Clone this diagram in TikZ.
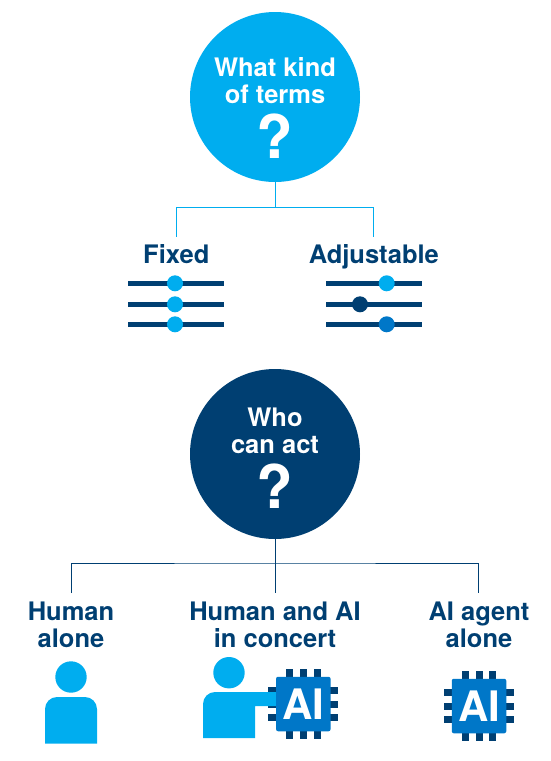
\documentclass[tikz,border=0pt]{standalone}
\usepackage{fontspec}
\setmainfont{TeX Gyre Heros}
\definecolor{cyanblue}{HTML}{00ADEF}
\definecolor{navyblue}{HTML}{003F72}
\definecolor{midblue}{HTML}{0077C8}
\tikzset{
  x=1pt,y=-1pt,
  bigcircle/.style={circle,minimum size=170pt,inner sep=0pt},
  label/.style={font=\fontsize{25.5}{27}\selectfont\bfseries,text=navyblue,anchor=base,inner sep=0pt},
  inlabel/.style={font=\fontsize{25.5}{27}\selectfont\bfseries,text=white,anchor=base,inner sep=0pt},
  qmark/.style={font=\fontsize{60}{60}\selectfont\bfseries,text=white,anchor=base,inner sep=0pt},
  cline/.style={draw=cyanblue,line width=1pt},
  nline/.style={draw=navyblue,line width=1pt},
  track/.style={draw=navyblue,line width=5pt},
  knob/.style={circle,minimum size=16pt,inner sep=0pt,fill=#1},
  pin/.style={fill=navyblue},
  persona/.style={fill=cyanblue},
  chip/.style={rectangle,rounded corners=2pt,fill=midblue,minimum size=54.5pt,inner sep=0pt,
     font=\fontsize{42}{42}\selectfont\bfseries,text=white},
}
\newcommand{\chippins}[2]{% centre x, centre y
  \foreach \d in {-13.7,0,13.7}{
    \fill[pin] (#1+\d-3.5,#2-35) rectangle (#1+\d+3.5,#2-26);
    \fill[pin] (#1+\d-3.5,#2+26) rectangle (#1+\d+3.5,#2+35);
    \fill[pin] (#1-35,#2+\d-3.5) rectangle (#1-26,#2+\d+3.5);
    \fill[pin] (#1+26,#2+\d-3.5) rectangle (#1+35,#2+\d+3.5);
  }}
\begin{document}
\begin{tikzpicture}
\useasboundingbox (0,0) rectangle (551,761);
% top question
\node[bigcircle,fill=cyanblue] (q1) at (275,97) {};
\node[inlabel] (q1a) at (275,76.2) {What kind};
\node[inlabel] (q1b) at (275,103.2) {of terms};
\node[qmark] (q1m) at (275,158) {?};
\coordinate (j1) at (275,207.3);
\coordinate (f1) at (176.3,236.7);
\coordinate (a1) at (373.3,236.7);
\draw[cline] (q1) -- (j1);
\draw[cline] (f1) |- (a1 |- j1) -- (a1);
\node[label] (fixed) at (176.3,263) {Fixed};
\node[label] (adj) at (373.8,263) {Adjustable};
% sliders
\foreach \y/\kl/\kr/\cr in {283.3/175/386.7/cyanblue,304.3/175/360/navyblue,324.3/175/386.7/midblue}{
  \draw[track] (128,\y) -- (224,\y);
  \draw[track] (326,\y) -- (422,\y);
  \node[knob=cyanblue] at (\kl,\y) {};
  \node[knob=\cr] at (\kr,\y) {};
}
% bottom question
\node[bigcircle,fill=navyblue] (q2) at (275,454) {};
\node[inlabel] (q2a) at (275,426.2) {Who};
\node[inlabel] (q2b) at (275,453.2) {can act};
\node[qmark] (q2m) at (275,508) {?};
\coordinate (j2) at (275,563);
\coordinate (h2) at (71,593);
\coordinate (m2) at (275,593);
\coordinate (r2) at (478,593);
\draw[nline] (q2) -- (m2);
\draw[nline] (h2) |- (j2) -| (r2);
\node[label] (hum1) at (71,620) {Human};
\node[label] (hum2) at (71,647) {alone};
\node[label] (mid1) at (275,620) {Human and AI};
\node[label] (mid2) at (275,647) {in concert};
\node[label] (ai1) at (479,620) {AI agent};
\node[label] (ai2) at (479,647) {alone};
% lone person
\fill[persona] (71,677) circle (15.7);
\fill[persona] (45,743.5) -- (45,709) arc[start angle=180,end angle=270,radius=12] -- (85,697) arc[start angle=270,end angle=360,radius=12] -- (97,743.5) -- cycle;
% person with chip
\fill[persona] (229,672.7) circle (15.7);
\chippins{303.3}{704}
\fill[persona] (203,738) -- (203,704) arc[start angle=180,end angle=270,radius=12] -- (280,692) -- (280,706) -- (255,706) -- (255,738) -- cycle;
\node[chip] (chipa) at (303.3,704) {AI};
% lone chip
\chippins{479}{706}
\node[chip] (chipb) at (479,706) {AI};
\end{tikzpicture}
\end{document}
